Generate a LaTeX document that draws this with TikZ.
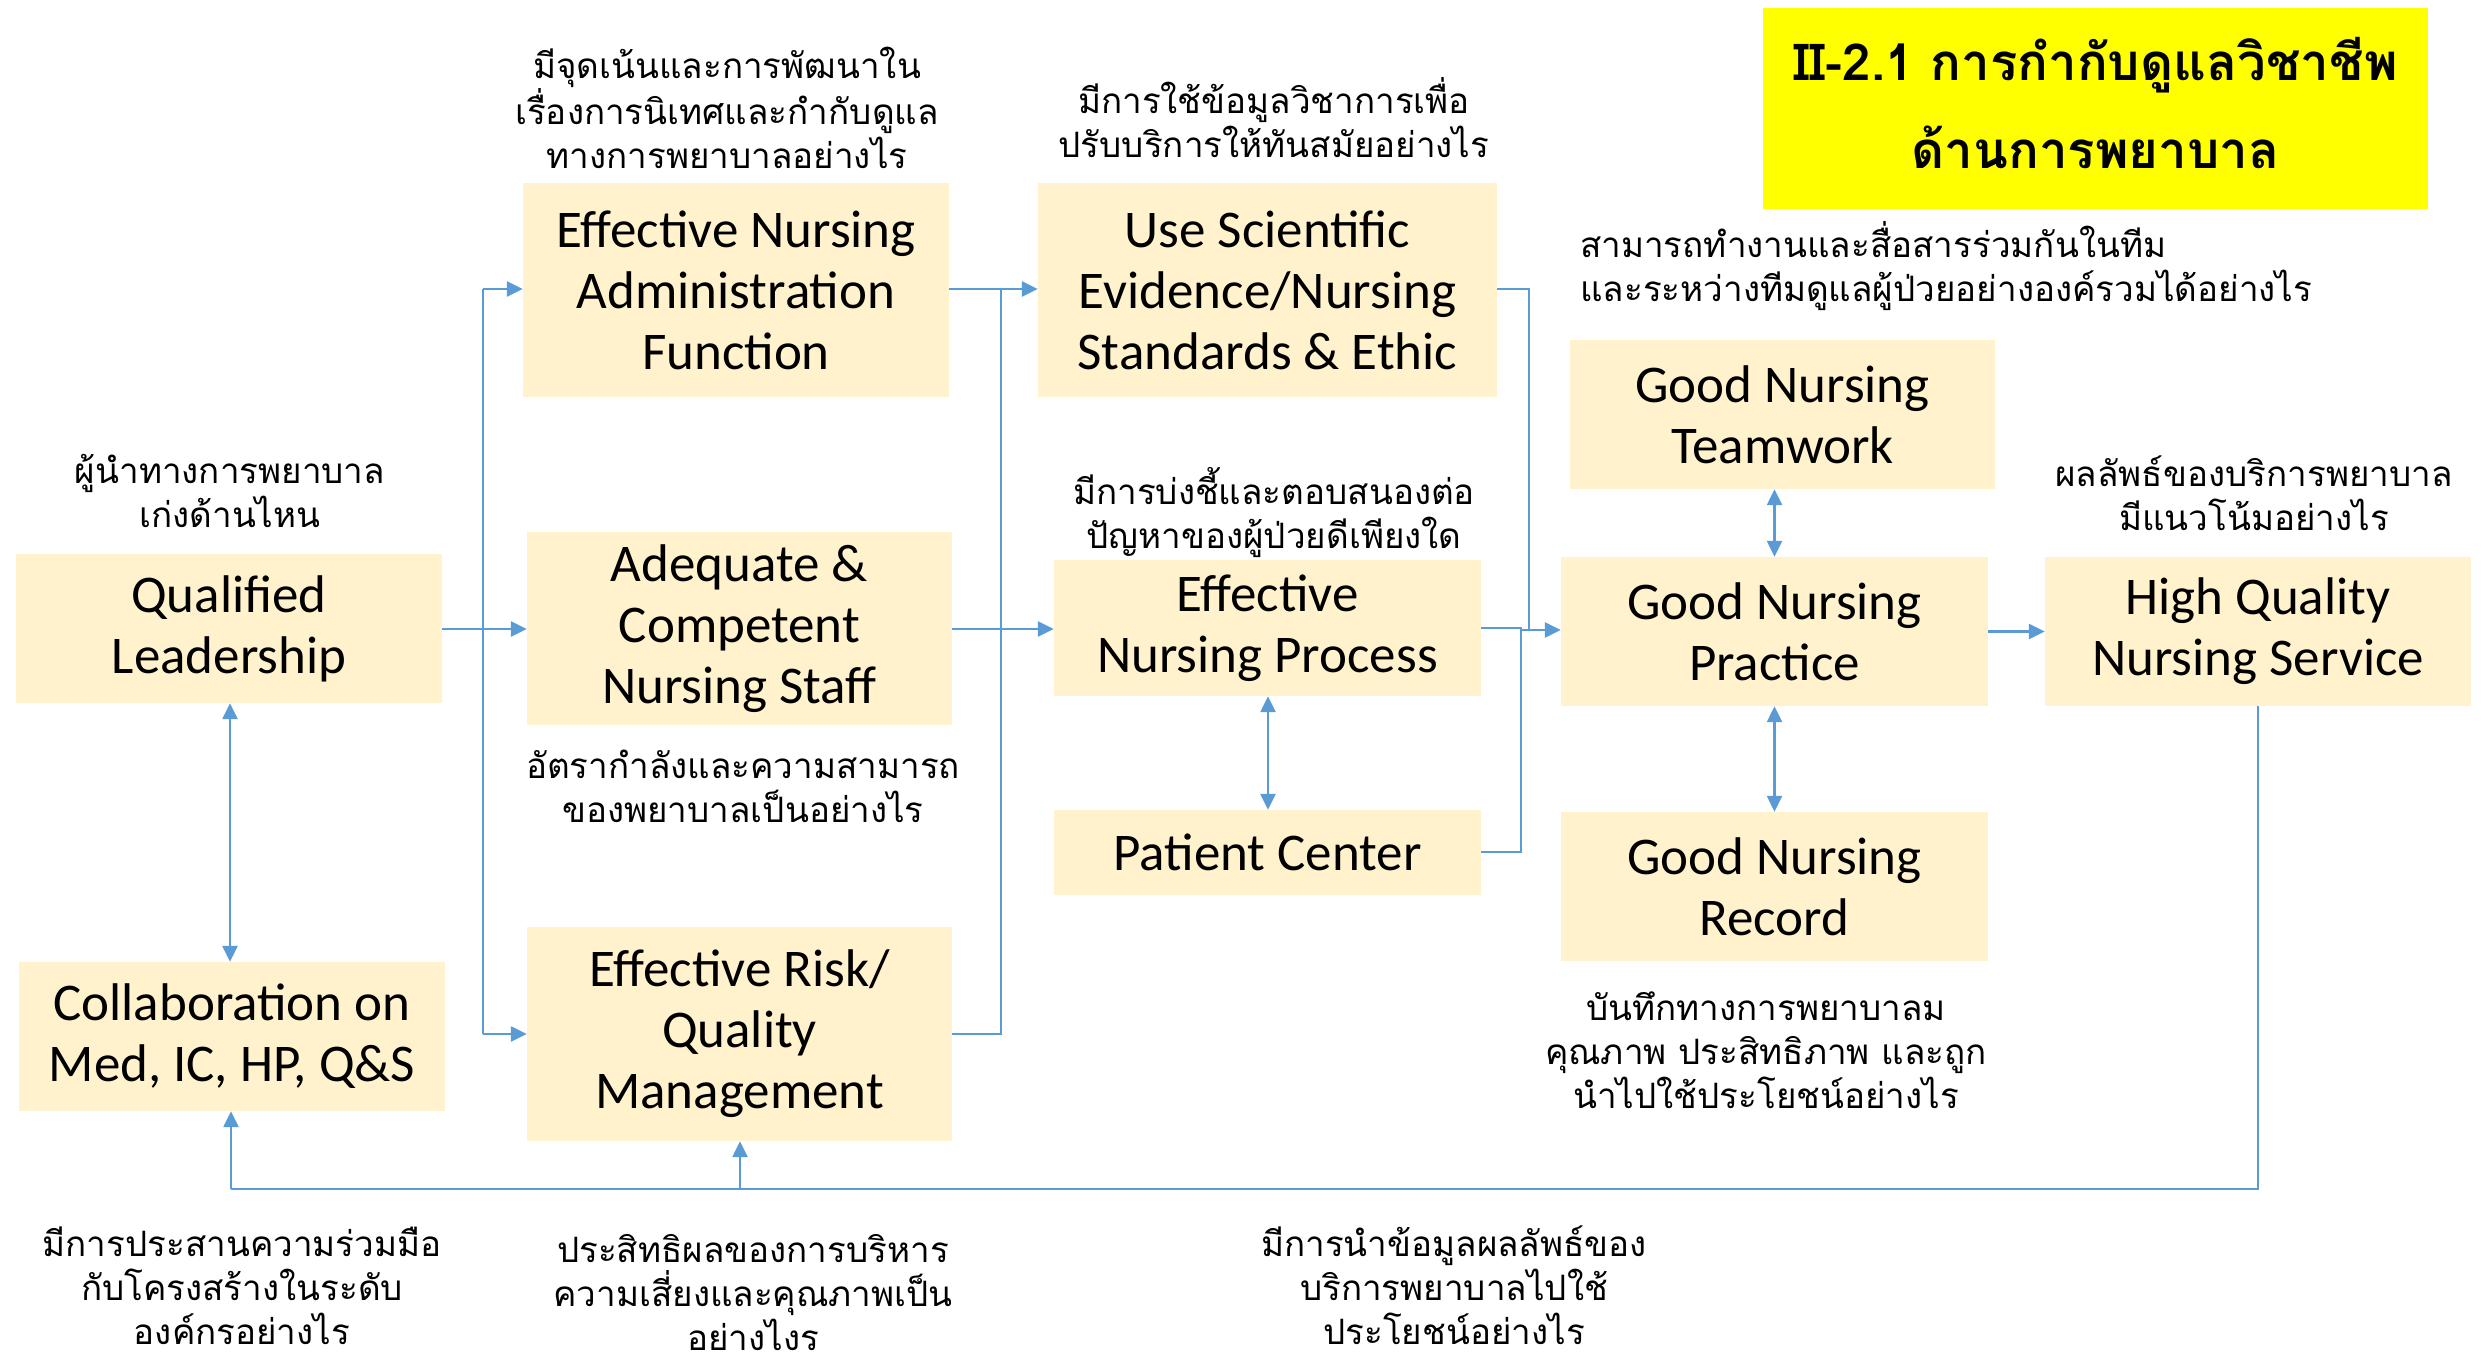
\documentclass[tikz,border=0pt]{standalone}
\usepackage{fontspec}
\setmainfont{Carlito}
\newfontfamily\thai[Script=Thai]{Loma}
\usetikzlibrary{arrows.meta}
\definecolor{boxfill}{HTML}{FFF2CC}
\definecolor{linkblue}{HTML}{5B9BD5}
\definecolor{titleyellow}{HTML}{FFFF00}
\tikzset{
  box/.style={fill=boxfill, inner sep=0pt, align=center, font=\fontsize{53}{61}\selectfont},
  lab/.style={align=center, inner sep=0pt, font=\thai\fontsize{35}{44}\selectfont},
  link/.style={draw=linkblue, line width=2.5pt},
  arr/.style={link, -{Triangle[length=16pt,width=15pt]}},
  darr/.style={link, {Triangle[length=16pt,width=15pt]}-{Triangle[length=16pt,width=15pt]}},
}
\begin{document}
\begin{tikzpicture}[x=1pt,y=-1pt]
\useasboundingbox (0,0) rectangle (2483,1362);
% title
\node[fill=titleyellow, minimum width=665pt, minimum height=201pt, inner sep=0pt] (title) at (2095.5,108.5) {};
\node[inner sep=0pt, align=center, font=\thai\bfseries\fontsize{51}{88}\selectfont] (titletext) at (2095.5,103)
  {II-2.1 การกำกับดูแลวิชาชีพ\\ด้านการพยาบาล};
% boxes
\node[box, minimum width=426pt, minimum height=149pt] (ql) at (229,628.5) {Qualified\\Leadership};
\node[box, minimum width=426pt, minimum height=214pt] (adm) at (736,290) {Effective Nursing\\Administration\\Function};
\node[box, minimum width=425pt, minimum height=193pt] (adq) at (739.5,628.5) {Adequate \&\\Competent\\Nursing Staff};
\node[box, minimum width=425pt, minimum height=214pt] (risk) at (739.5,1034) {Effective Risk/\\Quality\\Management};
\node[box, minimum width=426pt, minimum height=149pt] (col) at (232,1036.5) {Collaboration on\\Med, IC, HP, Q\&S};
\node[box, minimum width=459pt, minimum height=214pt] (sci) at (1267.5,290) {Use Scientific\\Evidence/Nursing\\Standards \& Ethic};
\node[box, minimum width=427pt, minimum height=136pt] (enp) at (1267.5,628) {Effective\\Nursing Process};
\node[box, minimum width=427pt, minimum height=85pt] (pat) at (1267.5,852.5) {Patient Center};
\node[box, minimum width=425pt, minimum height=149pt] (team) at (1782.5,414.5) {Good Nursing\\Teamwork};
\node[box, minimum width=427pt, minimum height=149pt] (gnp) at (1774.5,631.5) {Good Nursing\\Practice};
\node[box, minimum width=427pt, minimum height=149pt] (rec) at (1774.5,886.5) {Good Nursing\\Record};
\node[box, minimum width=426pt, minimum height=149pt] (hq) at (2258,631.5) {High Quality\\Nursing Service};
% labels
\node[lab] (l1) at (727,108) {มีจุดเน้นและการพัฒนาใน\\เรื่องการนิเทศและกำกับดูแล\\ทางการพยาบาลอย่างไร};
\node[lab] (l2) at (1274,118) {มีการใช้ข้อมูลวิชาการเพื่อ\\ปรับบริการให้ทันสมัยอย่างไร};
\node[lab, align=left, anchor=west] (l3) at (1580,266.5) {สามารถทำงานและสื่อสารร่วมกันในทีม\\และระหว่างทีมดูแลผู้ป่วยอย่างองค์รวมได้อย่างไร};
\node[lab] (l4) at (230,490.5) {ผู้นำทางการพยาบาล\\เก่งด้านไหน};
\node[lab] (l5) at (743,786.5) {อัตรากำลังและความสามารถ\\ของพยาบาลเป็นอย่างไร};
\node[lab] (l6) at (1274,512.5) {มีการบ่งชี้และตอบสนองต่อ\\ปัญหาของผู้ป่วยดีเพียงใด};
\node[lab] (l7) at (2254,493) {ผลลัพธ์ของบริการพยาบาล\\มีแนวโน้มอย่างไร};
\node[lab] (l8) at (1766,1050) {บันทึกทางการพยาบาลม\\คุณภาพ ประสิทธิภาพ และถูก\\นำไปใช้ประโยชน์อย่างไร};
\node[lab] (l9) at (242,1286) {มีการประสานความร่วมมือ\\กับโครงสร้างในระดับ\\องค์กรอย่างไร};
\node[lab] (l10) at (753,1293) {ประสิทธิผลของการบริหาร\\ความเสี่ยงและคุณภาพเป็น\\อย่างไงร};
\node[lab] (l11) at (1454,1285) {มีการนำข้อมูลผลลัพธ์ของ\\บริการพยาบาลไปใช้\\ประโยชน์อย่างไร};
% junction coordinates
\coordinate (ja) at (483,289);
\coordinate (jb) at (483,629);
\coordinate (jc) at (483,1034);
\coordinate (jd) at (1001,289);
\coordinate (je) at (1001,1034);
\coordinate (jf) at (1529,289);
\coordinate (jg) at (1521,630);
\coordinate (jh) at (2258,1189);
\coordinate (ji) at (740,1189);
\coordinate (jj) at (231,1189);
% left fan-out
\draw[link] (ql.east |- jb) -- (jb);
\draw[link] (ja) -- (jc);
\draw[arr] (ja) -- (adm.west |- ja);
\draw[arr] (jb) -- (adq.west |- jb);
\draw[arr] (jc) -- (risk.west |- jc);
% middle collector
\draw[link] (adm.east |- jd) -- (jd) -- (je) -- (risk.east |- je);
\draw[arr] (jd) -- (sci.west |- jd);
\draw[arr] (adq.east |- jb) -- (enp.west |- jb);
% to practice
\draw[link] (sci.east |- jf) -- (jf) -- (jf |- jg);
\draw[link] (enp.east |- 0,628) -- (1521,628) -- (jg);
\draw[link] (pat.east |- 0,852) -- (1521,852) -- (jg);
\draw[arr] (jg) -- (gnp.west |- jg);
\draw[darr] (enp.south -| 1268,0) -- (pat.north -| 1268,0);
\draw[darr] (team.south -| gnp.north) -- (gnp.north);
\draw[darr] (gnp.south) -- (rec.north);
\draw[arr] (gnp.east) -- (hq.west);
% feedback loop
\draw[link] (hq.south -| jh) -- (jh) -- (jj);
\draw[arr] (jj) -- (col.south -| jj);
\draw[arr] (ji) -- (risk.south -| ji);
\draw[darr] (ql.south -| 230,0) -- (col.north -| 230,0);
\end{tikzpicture}
\end{document}
